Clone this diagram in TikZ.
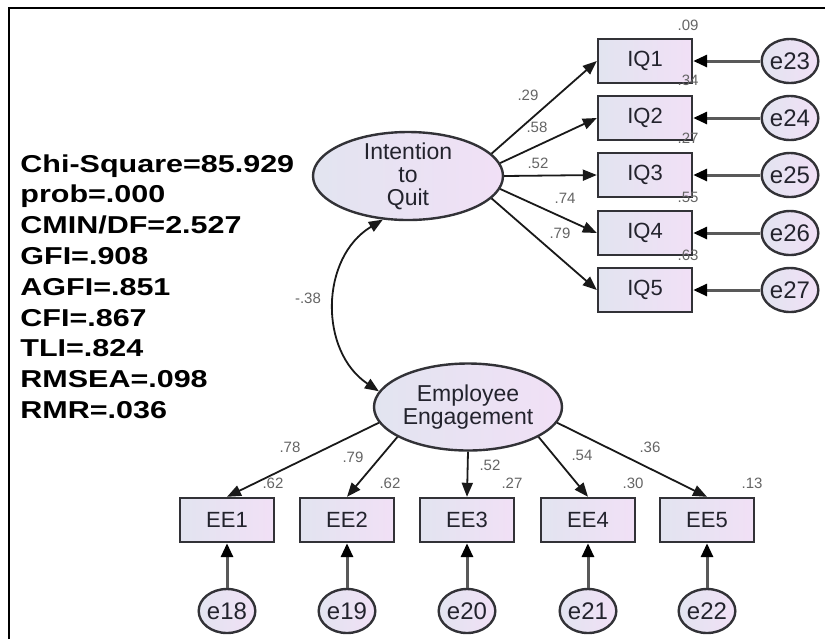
\documentclass[tikz,border=0pt]{standalone}
\usepackage{fontspec}
\setmainfont{Liberation Sans}
\newfontfamily\statfont[FakeStretch=1.25]{Liberation Sans}
\usetikzlibrary{arrows.meta,shapes.geometric}

\definecolor{fillleft}{RGB}{226,228,240}
\definecolor{fillright}{RGB}{241,224,246}
\definecolor{edgegray}{RGB}{50,50,55}
\definecolor{labeltext}{RGB}{35,35,45}
\definecolor{coefgray}{RGB}{100,100,100}

\begin{document}
\begin{tikzpicture}[x=0.5pt, y=-0.5pt,
  obs/.style={draw=edgegray, line width=1.2pt, left color=fillleft, right color=fillright,
    minimum width=47pt, minimum height=22pt, inner sep=0pt, text=labeltext,
    font=\fontsize{11}{12}\selectfont},
  lat/.style={ellipse, draw=edgegray, line width=1.2pt, left color=fillleft, right color=fillright,
    inner xsep=0pt, inner ysep=-3pt, align=center, text=labeltext,
    font=\fontsize{11.5}{11.5}\selectfont},
  err/.style={ellipse, draw=edgegray, line width=1.2pt, left color=fillleft, right color=fillright,
    minimum width=25pt, minimum height=22pt, inner sep=0pt, text=labeltext,
    font=\fontsize{12}{12}\selectfont},
  coef/.style={inner sep=0pt, text=coefgray, font=\fontsize{7.5}{8}\selectfont},
  load/.style={-{Triangle[length=7pt,width=5.5pt]}, line width=0.9pt, draw=black!90},
  res/.style={-{Triangle[length=7pt,width=6pt,color=black]}, line width=1.5pt, draw=black!65},
  cov/.style={{Triangle[length=7pt,width=5.5pt]}-{Triangle[length=7pt,width=5.5pt]}, line width=0.9pt, draw=black!90}]
\useasboundingbox (0,0) rectangle (825,639);
\draw[line width=1.1pt] (9,639) -- (9,8) -- (825,8);

% fit indices
\node[anchor=north west, inner sep=0pt, align=left,
  font=\statfont\bfseries\fontsize{12.2}{15.4}\selectfont] (fit) at (20,154)
  {Chi-Square=85.929\\prob=.000\\CMIN/DF=2.527\\GFI=.908\\AGFI=.851\\CFI=.867\\TLI=.824\\RMSEA=.098\\RMR=.036};

% latent variables
\node[lat, minimum width=95pt, minimum height=44pt] (itq) at (408,176) {Intention\\to\\Quit};
\node[lat, minimum width=94pt, minimum height=43.5pt] (eng) at (468,407) {Employee\\Engagement};

% intention to quit items
\node[obs] (iq1) at (645,61) {IQ1};  \node[err] (e23) at (790,61) {e23};
\node[obs] (iq2) at (645,118) {IQ2}; \node[err] (e24) at (790,118) {e24};
\node[obs] (iq3) at (645,175) {IQ3}; \node[err] (e25) at (790,175) {e25};
\node[obs] (iq4) at (645,233) {IQ4}; \node[err] (e26) at (790,233) {e26};
\node[obs] (iq5) at (645,290) {IQ5}; \node[err] (e27) at (790,290) {e27};

% engagement items
\node[obs] (ee1) at (227,520) {EE1}; \node[err] (e18) at (227,611) {e18};
\node[obs] (ee2) at (347,520) {EE2}; \node[err] (e19) at (347,611) {e19};
\node[obs] (ee3) at (467,520) {EE3}; \node[err] (e20) at (467,611) {e20};
\node[obs] (ee4) at (588,520) {EE4}; \node[err] (e21) at (588,611) {e21};
\node[obs] (ee5) at (707,520) {EE5}; \node[err] (e22) at (707,611) {e22};

\draw[load] (itq.15) -- (iq1.west);
\draw[load] (itq.8) -- (iq2.west);
\draw[load] (itq.east) -- (iq3.west);
\draw[load] (itq.-8) -- (iq4.west);
\draw[load] (itq.-15) -- (iq5.west);
\draw[res] (e23) -- (iq1); \draw[res] (e24) -- (iq2); \draw[res] (e25) -- (iq3);
\draw[res] (e26) -- (iq4); \draw[res] (e27) -- (iq5);

\draw[load] (eng.190) -- (ee1.north);
\draw[load] (eng.203) -- (ee2.north);
\draw[load] (eng.270) -- (ee3.north);
\draw[load] (eng.337) -- (ee4.north);
\draw[load] (eng.350) -- (ee5.north);
\draw[res] (e18) -- (ee1); \draw[res] (e19) -- (ee2); \draw[res] (e20) -- (ee3);
\draw[res] (e21) -- (ee4); \draw[res] (e22) -- (ee5);

\draw[cov] (itq.240) .. controls +(-63,38) and +(-60,-40) .. (eng.170);

% estimates
\node[coef] (r38) at (308,298) {-.38};
\node[coef] (l29) at (528,95) {.29};  \node[coef] (q09) at (688,25) {.09};
\node[coef] (l58) at (537,127) {.58}; \node[coef] (q34) at (688,80) {.34};
\node[coef] (l52) at (538,163) {.52}; \node[coef] (q27) at (688,138) {.27};
\node[coef] (l74) at (565,198) {.74}; \node[coef] (q55) at (688,197) {.55};
\node[coef] (l79) at (560,233) {.79}; \node[coef] (q63) at (688,255) {.63};
\node[coef] (m78) at (290,447) {.78}; \node[coef] (s62a) at (273,483) {.62};
\node[coef] (m79) at (353,457) {.79}; \node[coef] (s62b) at (390,483) {.62};
\node[coef] (m52) at (490,465) {.52}; \node[coef] (s27) at (512,483) {.27};
\node[coef] (m54) at (582,455) {.54}; \node[coef] (s30) at (633,483) {.30};
\node[coef] (m36) at (650,447) {.36}; \node[coef] (s13) at (752,483) {.13};
\end{tikzpicture}
\end{document}
